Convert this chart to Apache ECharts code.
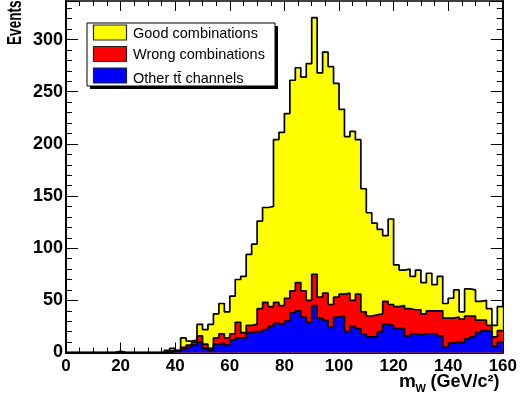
<!DOCTYPE html>
<html>
<head>
<meta charset="utf-8">
<script src="https://cdn.jsdelivr.net/npm/echarts@6/dist/echarts.min.js"></script>
<style>
html,body{margin:0;padding:0;background:#fff;}
#chart{width:520px;height:399px;}
</style>
</head>
<body>
<div id="chart"></div>
<script>
// Bin lower edges (GeV/c^2), bin width 2
var binStart = [0,2,4,6,8,10,12,14,16,18,20,22,24,26,28,30,32,34,36,38,
  40,42,44,46,48,50,52,54,56,58,60,62,64,66,68,70,72,74,76,78,
  80,82,84,86,88,90,92,94,96,98,100,102,104,106,108,110,112,114,116,118,
  120,122,124,126,128,130,132,134,136,138,140,142,144,146,148,150,152,154,156,158];
var binEnd = 160;

// Other tt̄ channels (blue, bottom of stack)
var otherChannels = [0,0,0,0,0,0,0,0,0,0,0,0,0,0,0,0,0,0,0,1,
  1,3,5,7,10,4,2,8,9,7,12,14,14,19,20,20,22,25,28,27,
  30,38,40,34,29,45,33,31,24,34,35,20,25,23,18,15,15,20,27,26,
  23,23,16,18,17,18,18,18,16,5,9,10,9,13,15,19,21,20,6,10];
// Wrong combinations (red, middle of stack)
var wrongComb = [0,0,0,0,0,0,0,0,0,1,0,0,0,0,0,0,0,0,1,1,
  0,2,2,3,6,4,2,6,9,7,6,15,5,7,7,22,26,19,20,18,
  22,21,27,25,21,30,20,26,22,19,21,37,25,33,21,20,21,17,22,20,
  21,22,26,23,24,19,22,22,24,28,24,24,23,22,20,12,10,6,9,11];
// Good combinations (yellow, top of stack)
var goodComb = [0,0,0,0,0,0,0,0,0,0,0,0,0,0,0,0,0,0,1,2,
  1,9,4,2,11,14,23,23,29,25,36,41,54,68,77,84,91,96,156,166,
  177,202,206,205,227,246,215,231,228,205,177,150,162,148,118,99,88,81,63,82,
  40,34,38,32,38,30,36,25,33,14,19,26,7,26,25,18,19,16,11,23];

var seriesNames = ['Good combinations', 'Wrong combinations', 'Other t\u0074\u0304 channels'];
var xTicks = [0,20,40,60,80,100,120,140,160];
var yTicks = [0,50,100,150,200,250,300];

// cumulative stack (as ROOT THStack draws it)
function cumulative(list) {
  return binStart.map(function (x, i) {
    var s = 0;
    list.forEach(function (arr) { s += arr[i]; });
    return s;
  });
}
function stepData(vals) {
  var d = binStart.map(function (x, i) { return [x, vals[i]]; });
  d.push([binEnd, vals[vals.length - 1]]);
  return d;
}
var topBlue = cumulative([otherChannels]);
var topRed = cumulative([otherChannels, wrongComb]);
var topYellow = cumulative([otherChannels, wrongComb, goodComb]);

var FONT = 'Liberation Sans, Arial, Helvetica, sans-serif';
var chart = echarts.init(document.getElementById('chart'), null, {renderer: 'canvas'});

function xAx(pos, showLabel) {
  return {
    type: 'value', position: pos, min: 0, max: 160, interval: 20,
    axisLine: {show: true, onZero: false, lineStyle: {color: '#000', width: pos === 'bottom' ? 2 : 1.5}},
    axisTick: {show: true, inside: true, length: 10, lineStyle: {color: '#000', width: 1}},
    minorTick: {show: true, splitNumber: 4, length: 5, lineStyle: {color: '#000', width: 1}},
    splitLine: {show: false}, minorSplitLine: {show: false},
    axisLabel: {show: showLabel, color: '#000', fontSize: 17, fontWeight: 'bold', fontFamily: FONT, margin: 5,
      formatter: function (v) { return xTicks.indexOf(v) >= 0 ? String(v) : ''; }}
  };
}
function yAx(pos, major, showLabel) {
  return {
    type: 'value', position: pos, min: 0, max: 337, interval: major ? 50 : 10,
    axisLine: {show: major, onZero: false, lineStyle: {color: '#000', width: 2}},
    axisTick: {show: true, inside: true, length: major ? 12 : 6, lineStyle: {color: '#000', width: 1}},
    splitLine: {show: false},
    axisLabel: {show: showLabel, color: '#000', fontSize: 18, fontWeight: 'bold', fontFamily: FONT, margin: 3,
      formatter: function (v) { return yTicks.indexOf(v) >= 0 ? String(v) : ''; }}
  };
}

function histSeries(name, vals, color, z) {
  return {
    name: name, type: 'line', step: 'end', data: stepData(vals),
    symbol: 'none', showSymbol: false, z: z,
    lineStyle: {color: '#000', width: 1.7},
    areaStyle: {color: color, opacity: 1, origin: 'start'},
    silent: true
  };
}

var legendY = [25, 46.5, 68];
var legendColors = ['#ffff00', '#ff0000', '#0000ff'];
var legendTextY = [33.5, 55, 79];
var graphics = [
  {type: 'rect', shape: {x: 90, y: 26, width: 188, height: 63}, style: {fill: '#000'}, z: 100},
  {type: 'rect', shape: {x: 87, y: 23, width: 188, height: 63}, style: {fill: '#fff', stroke: '#000', lineWidth: 1}, z: 101}
];
for (var i = 0; i < 3; i++) {
  graphics.push({type: 'rect', shape: {x: 93.5, y: legendY[i], width: 33, height: 15},
    style: {fill: legendColors[i], stroke: '#222', lineWidth: 1.2}, z: 102});
  graphics.push({type: 'text', x: 133, y: legendTextY[i],
    style: {text: seriesNames[i], fill: '#000', font: '14.5px ' + FONT, textAlign: 'left', textVerticalAlign: 'middle'}, z: 102});
}
// axis titles
graphics.push({type: 'text', x: 15, y: 45, rotation: Math.PI / 2, scaleX: 0.68,
  style: {text: 'Events', fill: '#000', font: 'bold 20px ' + FONT, textAlign: 'left', textVerticalAlign: 'middle'}, z: 103});
graphics.push({type: 'text', x: 399, y: 382,
  style: {text: 'm', fill: '#000', font: 'bold 19px ' + FONT, textAlign: 'left', textVerticalAlign: 'middle'}, z: 103});
graphics.push({type: 'text', x: 415.5, y: 388.5,
  style: {text: 'W', fill: '#000', font: 'bold 11px ' + FONT, textAlign: 'left', textVerticalAlign: 'middle'}, z: 103});
graphics.push({type: 'text', x: 430.5, y: 382,
  style: {text: '(GeV/c\u00b2)', fill: '#000', font: 'bold 18px ' + FONT, textAlign: 'left', textVerticalAlign: 'middle'}, z: 103});

chart.setOption({
  animation: false,
  backgroundColor: '#fff',
  grid: {left: 66, right: 15, top: 1, bottom: 46.5, containLabel: false},
  xAxis: [xAx('bottom', true), xAx('top', false)],
  yAxis: [yAx('left', true, true), yAx('left', false, false), yAx('right', true, false), yAx('right', false, false)],
  series: [
    histSeries(seriesNames[0], topYellow, '#ffff00', 2),
    histSeries(seriesNames[1], topRed, '#ff0000', 3),
    histSeries(seriesNames[2], topBlue, '#0000ff', 4)
  ],
  graphic: graphics
});
</script>
</body>
</html>
